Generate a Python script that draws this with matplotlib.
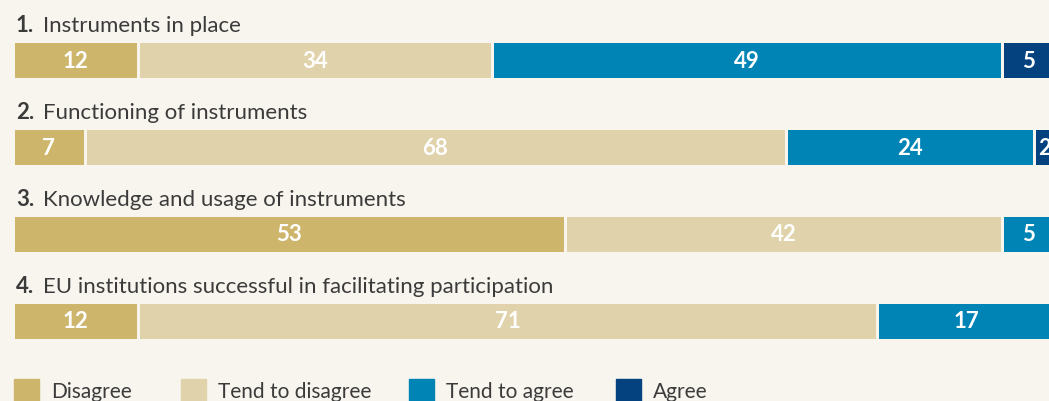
import matplotlib.pyplot as plt
from matplotlib.patches import Rectangle

plt.rcParams['font.family'] = ['Lato', 'DejaVu Sans']

# data
questions = ['Instruments in place',
             'Functioning of instruments',
             'Knowledge and usage of instruments',
             'EU institutions successful in facilitating participation']
categories = ['Disagree', 'Tend to disagree', 'Tend to agree', 'Agree']
disagree = [12, 7, 53, 12]
tend_disagree = [34, 68, 42, 71]
tend_agree = [49, 24, 5, 17]
agree = [5, 2, 0, 0]

colors = ['#cdb66c', '#e0d3ab', '#0084b6', '#03417f']
bg = '#f8f5ee'
txt = '#3b3b3b'

W, H = 1049, 401
x0 = 12.5  # bar origin in pixels (edge line eats 1.5px)
fig = plt.figure(figsize=(W / 100, H / 100), dpi=100, facecolor=bg)
ax = fig.add_axes([x0 / W, 0, 1 - x0 / W, 1])
ax.set_facecolor(bg)
ax.axis('off')

px_per_unit = 10.42
spacing = 86.7
first = 60.5
ax.set_xlim(0, (W - x0) / px_per_unit)
ax.set_ylim((H - first) / spacing, -first / spacing)

series = [disagree, tend_disagree, tend_agree, agree]
for i, q in enumerate(questions):
    vals = [s[i] for s in series]
    tot = sum(vals)
    left = 0
    for v, c in zip(vals, colors):
        if v == 0:
            continue
        w = v * 100 / tot
        ax.barh(i, w, left=left, height=38 / spacing, color=c,
                edgecolor=bg, linewidth=2.16)
        ax.text(left + w / 2, i + 0.01, str(v), ha='center', va='center',
                color='white', fontsize=16, fontweight='bold', clip_on=True)
        left += w
    ty = i - 28 / spacing
    ax.text(3.5 / px_per_unit, ty, f'{i + 1}.', fontsize=16, fontweight='bold',
            color=txt, va='baseline', ha='left')
    ax.text(30.5 / px_per_unit, ty, q, fontsize=16, color=txt,
            va='baseline', ha='left')

# legend
leg_x = [14, 181, 409, 616]
for x, c, lab in zip(leg_x, colors, categories):
    fig.patches.append(Rectangle((x / W, 0), 25 / W, 22 / H,
                                 transform=fig.transFigure, color=c))
    fig.text((x + 37) / W, 3 / H, lab, fontsize=15, color=txt,
             va='baseline', ha='left')

fig.savefig('out.png', dpi=100, facecolor=bg)
